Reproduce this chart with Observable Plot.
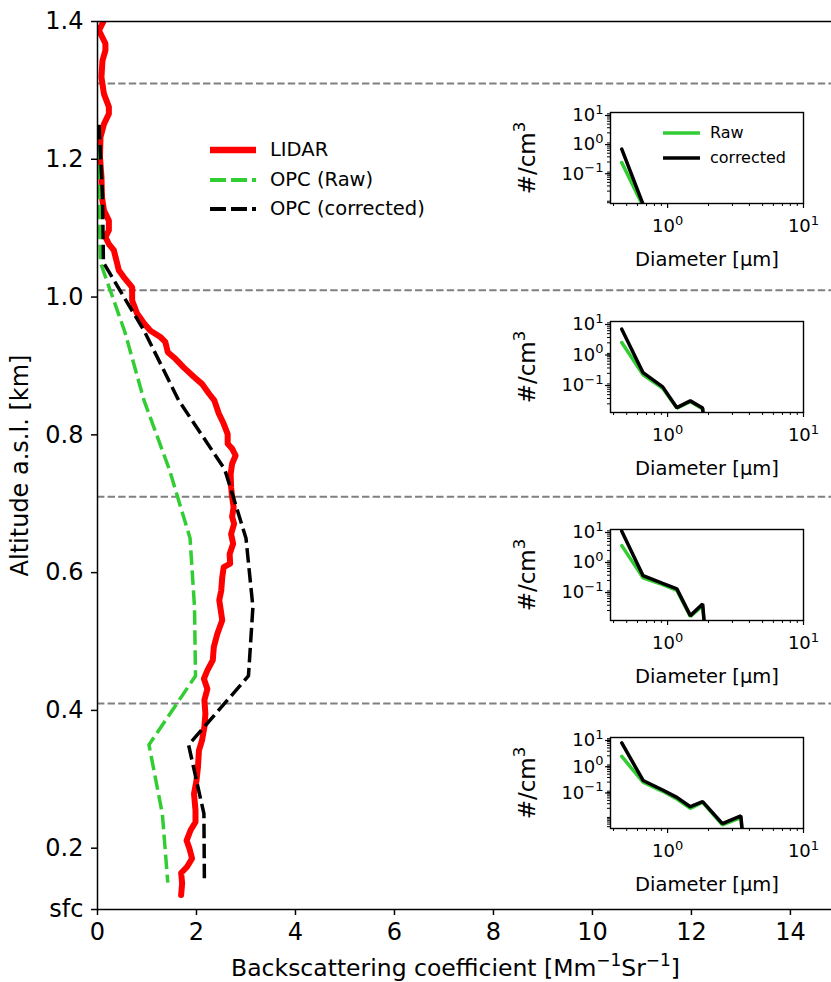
<!DOCTYPE html>
<html><head><meta charset="utf-8">
<script src="https://cdn.jsdelivr.net/npm/d3@7"></script>
<script src="https://cdn.jsdelivr.net/npm/@observablehq/plot@0.6"></script>
<style>
body{margin:0;background:#fff;}
#fig{position:relative;width:831px;height:982px;overflow:hidden;font-family:"DejaVu Sans";background:#fff;}
#fig > svg, #fig > div{position:absolute;}
.lg{position:absolute;font-family:"DejaVu Sans";color:#000;white-space:nowrap;}
</style></head><body><div id="fig"></div>
<script>
// ---------- main profile data ----------
const lidarAlt = [1.400,1.387,1.368,1.358,1.343,1.319,1.295,1.276,1.266,1.251,1.232,1.203,1.174,1.145,1.126,1.111,1.097,1.087,1.077,1.068,1.048,1.039,1.029,1.014,0.995,0.976,0.961,0.951,0.942,0.935,0.920,0.910,0.898,0.884,0.874,0.860,0.850,0.831,0.816,0.801,0.787,0.780,0.770,0.758,0.743,0.724,0.710,0.695,0.681,0.671,0.656,0.642,0.627,0.613,0.608,0.593,0.574,0.560,0.531,0.511,0.492,0.473,0.458,0.446,0.431,0.415,0.395,0.376,0.356,0.342,0.318,0.298,0.279,0.255,0.238,0.226,0.211,0.199,0.185,0.173,0.164,0.149,0.132];
const lidarBsc = [0.12,0.03,0.16,0.16,0.10,0.08,0.13,0.23,0.23,0.13,0.06,0.05,0.08,0.09,0.13,0.23,0.23,0.16,0.23,0.33,0.40,0.43,0.53,0.70,0.70,0.80,0.95,1.07,1.27,1.37,1.42,1.58,1.74,1.95,2.11,2.25,2.36,2.45,2.55,2.63,2.63,2.72,2.79,2.72,2.69,2.70,2.72,2.75,2.72,2.76,2.70,2.74,2.67,2.68,2.55,2.52,2.50,2.46,2.52,2.42,2.35,2.33,2.22,2.15,2.22,2.16,2.18,2.16,2.11,2.05,2.03,2.00,1.95,1.98,1.98,1.88,1.80,1.86,1.91,1.81,1.69,1.71,1.69];
const opcAlt  = [1.25,1.15,1.05,0.95,0.85,0.75,0.65,0.55,0.45,0.35,0.25,0.15];
const opcRaw  = [0.01,0.03,0.06,0.55,0.94,1.45,1.87,1.96,1.98,1.04,1.31,1.42];
const opcCorr = [0.03,0.10,0.12,0.95,1.64,2.57,3.00,3.14,3.05,1.84,2.15,2.16];
const layerAlts = [1.31,1.01,0.71,0.41];
const sfcAlt = 0.111, topAlt = 1.4, xMax = 14.83;
const xTicks = [0,2,4,6,8,10,12,14];
const yTicks = [sfcAlt,0.2,0.4,0.6,0.8,1.0,1.2,1.4];
const seriesNames = ["LIDAR","OPC (Raw)","OPC (corrected)"];
const xLabel = "Backscattering coefficient [Mm\u207B\u00B9Sr\u207B\u00B9]";
const yLabel = "Altitude a.s.l. [km]";

// ---------- size distribution insets ----------
const diam  = [0.46,0.66,0.92,1.17,1.47,1.81,2.53,3.46,4.6];
const raw1  = [0.19,0.006,0,0,0,0,0,0,0];
const corr1 = [0.55,0.007,0,0,0,0,0,0,0];
const raw2  = [2.05,0.18,0.065,0.0145,0.024,0.0135,0,0,0];
const corr2 = [5.6,0.21,0.072,0.015,0.025,0.0145,0,0,0];
const raw3  = [2.9,0.245,0.145,0.093,0.0126,0.029,0,0,0];
const corr3 = [8.8,0.29,0.16,0.105,0.0135,0.033,0,0,0];
const raw4  = [1.9,0.197,0.089,0.045,0.020,0.034,0.0047,0.0089,0];
const corr4 = [6.2,0.23,0.10,0.052,0.023,0.036,0.0052,0.0102,0];
const insetYMin = [0.0075,0.0104,0.0093,0.0034];
const insetXTicks = [1,10];
const insetYTicks = [0.1,1,10];
const logLabels = {"0.1":"10\u207B\u00B9","1":"10\u2070","10":"10\u00B9"};
const insetNames = ["Raw","corrected"];
const insetXLabel = "Diameter [\u03BCm]";
const insetYLabel = "#/cm\u00B3";

const GREEN = "#32cd32", RED = "#ff0000";
const DASH = "14.5,5.5";
const fig = document.getElementById("fig");
const FONT = "DejaVu Sans";

// turn unicode superscripts into raised tspans (mathtext-like)
const SUP = {"\u2070":"0","\u00B9":"1","\u00B2":"2","\u00B3":"3","\u207B":"\u2212"};
function supify(root, scale = 0.72, shift = 0.42) {
  root.querySelectorAll("text").forEach(t => {
    const s = t.textContent;
    if (![...s].some(ch => ch in SUP)) return;
    const fs = parseFloat(getComputedStyle(t).fontSize);
    const runs = []; let cur = "", curSup = null;
    for (const ch of s) {
      const sup = ch in SUP;
      if (curSup !== null && sup !== curSup) { runs.push([cur, curSup]); cur = ""; }
      curSup = sup; cur += sup ? SUP[ch] : ch;
    }
    if (cur) runs.push([cur, curSup]);
    while (t.firstChild) t.removeChild(t.firstChild);
    let shifted = false;
    for (const [txt, sup] of runs) {
      const ts = document.createElementNS("http://www.w3.org/2000/svg", "tspan");
      ts.textContent = txt;
      if (sup) { ts.setAttribute("font-size", (fs * scale).toFixed(1)); ts.setAttribute("dy", (-fs * shift).toFixed(1)); shifted = true; }
      else if (shifted) { ts.setAttribute("dy", (fs * shift).toFixed(1)); shifted = false; }
      t.appendChild(ts);
    }
  });
}

// ---------- main plot ----------
const lidar = lidarAlt.map((a,i)=>({a, b: lidarBsc[i]}));
const opc = opcAlt.map((a,i)=>({a, raw: opcRaw[i], corr: opcCorr[i]}));

const main = Plot.plot({
  width: 831, height: 982,
  marginLeft: 97, marginRight: 0, marginTop: 21, marginBottom: 73,
  style: {fontFamily: FONT, fontSize: "24px", background: "white", color: "black", overflow: "visible"},
  x: {domain: [0, xMax]},
  y: {domain: [sfcAlt, topAlt]},
  marks: [
    Plot.ruleY(layerAlts, {stroke: "#808080", strokeWidth: 2, strokeDasharray: "7.4,3.2"}),
    Plot.line(lidar, {x: "b", y: "a", stroke: RED, strokeWidth: 6, clip: true}),
    Plot.line(opc, {x: "raw", y: "a", stroke: GREEN, strokeWidth: 3.5, strokeDasharray: DASH, strokeLinecap: "butt", clip: true}),
    Plot.line(opc, {x: "corr", y: "a", stroke: "black", strokeWidth: 3.5, strokeDasharray: DASH, strokeLinecap: "butt", clip: true}),
    Plot.ruleX([0], {strokeWidth: 1.5}),
    Plot.ruleY([sfcAlt], {strokeWidth: 1.5}),
    Plot.ruleY([topAlt], {strokeWidth: 1.5}),
    Plot.axisX(xTicks, {tickSize: 6, tickPadding: 7, fontSize: 24, strokeWidth: 1.5, label: null}),
    Plot.axisY(yTicks, {tickSize: 6, tickPadding: 8, fontSize: 24, strokeWidth: 1.5, label: null,
      tickFormat: d => d === sfcAlt ? "sfc" : d.toFixed(1)}),
    Plot.text([xLabel], {frameAnchor: "bottom", textAnchor: "middle", lineAnchor: "middle", dy: 59, dx: -9, fontSize: 23.5, text: d => d}),
    Plot.text([yLabel], {frameAnchor: "left", textAnchor: "middle", lineAnchor: "middle", rotate: -90, dx: -77, fontSize: 24, text: d => d})
  ]
});
main.style.left = "0px"; main.style.top = "0px";
fig.appendChild(main);
supify(main);

// main legend
function swatch(color, width, dash) {
  return `<svg width="50" height="12" style="position:absolute;left:0;top:-6px;overflow:visible"><line x1="2" x2="48" y1="6" y2="6" stroke="${color}" stroke-width="${width}" ${dash ? `stroke-dasharray="${dash}"` : ""} stroke-linecap="butt"/></svg>`;
}
const legStyles = [[RED,6.5,null],[GREEN,3.8,"16,5"],["black",3.8,"16,5"]];
seriesNames.forEach((name,i)=>{
  const d = document.createElement("div");
  d.className = "lg";
  d.style.left = "208px"; d.style.top = (150 + i*29.5) + "px";
  d.innerHTML = swatch(...legStyles[i]) + `<span style="position:absolute;left:62px;top:-12px;font-size:19.5px;line-height:24px">${name}</span>`;
  fig.appendChild(d);
});

// ---------- insets ----------
const insetTops = [112,321,529,737];
const insetData = [[raw1,corr1],[raw2,corr2],[raw3,corr3],[raw4,corr4]];
const xMinor = [0.4,0.5,0.6,0.7,0.8,0.9,2,3,4,5,6,7,8,9];
const clipFloor = v => v > 0 ? v : 1e-9;

insetData.forEach(([raw, corr], k) => {
  const yMin = insetYMin[k];
  const yMinor = [];
  for (let e = -3; e <= 0; e++) for (let m = 2; m <= 9; m++) { const v = m * Math.pow(10, e); if (v >= yMin && v <= 10) yMinor.push(v); }
  const rows = diam.map((d,i)=>({d, raw: raw[i], corr: corr[i]}));
  const p = Plot.plot({
    width: 323, height: 171,
    marginLeft: 110, marginRight: 20, marginTop: 10, marginBottom: 70,
    style: {fontFamily: FONT, fontSize: "18px", background: "white", color: "black", overflow: "visible"},
    x: {type: "log", domain: [0.38, 10]},
    y: {type: "log", domain: [yMin, 10]},
    marks: [
      Plot.line(rows, {x: "d", y: r => clipFloor(r.raw), stroke: GREEN, strokeWidth: 3.5, clip: true, strokeLinejoin: "miter"}),
      Plot.line(rows, {x: "d", y: r => clipFloor(r.corr), stroke: "black", strokeWidth: 3.5, clip: true, strokeLinejoin: "miter"}),
      Plot.frame({stroke: "black", strokeWidth: 1.4}),
      Plot.axisX(insetXTicks, {tickSize: 5, tickPadding: 11, fontSize: 18, strokeWidth: 1.2, label: null, tickFormat: d => logLabels[String(d)]}),
      Plot.axisX(xMinor, {tickSize: 3, strokeWidth: 1, label: null, tickFormat: () => ""}),
      Plot.axisY(insetYTicks, {tickSize: 5, tickPadding: 2, dy: 3, fontSize: 18, strokeWidth: 1.2, label: null, tickFormat: d => logLabels[String(d)]}),
      Plot.axisY(yMinor, {tickSize: 3, strokeWidth: 1, label: null, tickFormat: () => ""}),
      Plot.text([insetXLabel], {frameAnchor: "bottom", textAnchor: "middle", lineAnchor: "middle", dy: 56, fontSize: 19.5, text: d => d}),
      Plot.text([insetYLabel], {frameAnchor: "left", textAnchor: "middle", lineAnchor: "middle", rotate: -90, dx: -83, fontSize: 23, text: d => d})
    ]
  });
  p.style.left = "500px"; p.style.top = (insetTops[k] - 10) + "px";
  fig.appendChild(p);
  supify(p);
});

// inset legend (top inset)
const insetLeg = [[GREEN, 132.7],["black", 157.7]];
insetNames.forEach((name,i)=>{
  const d = document.createElement("div");
  d.className = "lg";
  d.style.left = "663px"; d.style.top = insetLeg[i][1] + "px";
  d.innerHTML = `<svg width="40" height="8" style="position:absolute;left:0;top:-4px;overflow:visible"><line x1="0" x2="37" y1="4" y2="4" stroke="${insetLeg[i][0]}" stroke-width="3.5"/></svg><span style="position:absolute;left:47px;top:-10px;font-size:16px;line-height:20px">${name}</span>`;
  fig.appendChild(d);
});
</script></body></html>
